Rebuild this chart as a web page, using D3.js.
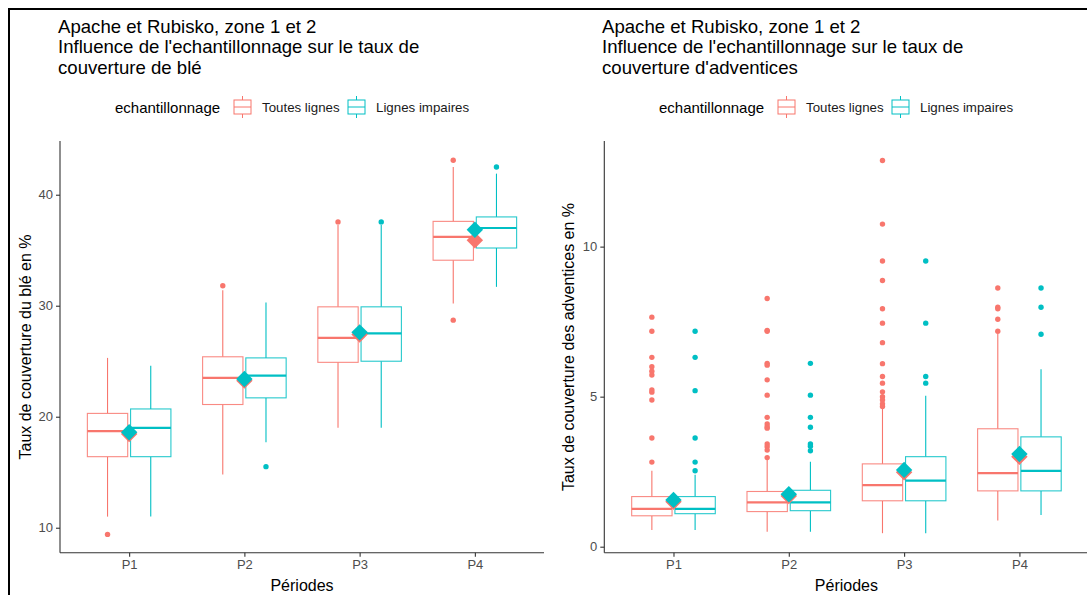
<!DOCTYPE html>
<html><head><meta charset="utf-8">
<script src="https://cdn.jsdelivr.net/npm/d3@7"></script>
<style>body{margin:0;background:#fff;}svg{display:block;font-family:"Liberation Sans",Arial,sans-serif;}</style>
</head><body>
<svg id="chart" width="1087" height="595"></svg>
<script>
// ---------- data ----------
const periods = ["P1", "P2", "P3", "P4"];
const groups = ["Toutes lignes", "Lignes impaires"];
const colors = ["#F8766D", "#00BFC4"];

// boxplot stats: [lower whisker, Q1, median, Q3, upper whisker]
const bleToutes = [[11.0, 16.4, 18.7, 20.3, 25.3], [14.8, 21.1, 23.5, 25.4, 31.4], [19.0, 24.9, 27.1, 29.9, 37.3], [30.2, 34.1, 36.2, 37.6, 42.5]];
const bleImpaires = [[11.0, 16.4, 19.0, 20.7, 24.6], [17.7, 21.7, 23.7, 25.3, 30.3], [19.0, 25.0, 27.5, 29.9, 37.3], [31.7, 35.2, 37.0, 38.0, 41.9]];
const bleToutesMean = [18.45, 23.25, 27.4, 35.9];
const bleImpairesMean = [18.6, 23.4, 27.6, 36.85];
const bleToutesOut = [[9.4], [31.8], [37.55], [43.1, 28.7]];
const bleImpairesOut = [[], [15.5], [37.55], [42.5]];

const advToutes = [[0.56, 1.03, 1.26, 1.67, 2.53], [0.5, 1.17, 1.48, 1.84, 2.95], [0.45, 1.53, 2.05, 2.76, 4.6], [0.87, 1.86, 2.45, 3.93, 7.1]];
const advImpaires = [[0.56, 1.1, 1.26, 1.67, 2.4], [0.5, 1.2, 1.48, 1.88, 2.83], [0.45, 1.53, 2.2, 3.0, 5.03], [1.06, 1.86, 2.53, 3.66, 5.91]];
const advToutesMean = [1.5, 1.69, 2.48, 3.0];
const advImpairesMean = [1.56, 1.75, 2.56, 3.09];
const advToutesOut = [
  [7.65, 7.18, 6.31, 6.0, 5.85, 5.72, 5.22, 5.15, 4.89, 3.62, 2.82],
  [8.27, 7.21, 7.18, 6.11, 6.05, 5.56, 5.05, 4.31, 4.09, 4.0, 3.95, 3.42, 3.33, 3.22, 2.97],
  [12.87, 10.75, 9.52, 8.87, 7.93, 7.45, 6.8, 6.1, 5.67, 5.45, 5.16, 5.0, 4.89, 4.76, 4.67],
  [8.62, 7.98, 7.93, 7.58, 7.18]
];
const advImpairesOut = [
  [7.18, 6.31, 5.2, 3.62, 2.82, 2.53],
  [6.11, 5.05, 4.31, 3.98, 3.42, 3.35, 3.2],
  [9.52, 7.45, 5.67, 5.45],
  [8.62, 7.98, 7.08]
];

const bleTicks = [10, 20, 30, 40];
const advTicks = [0, 5, 10];

const titleLines1 = ["Apache et Rubisko, zone 1 et 2", "Influence de l'echantillonnage sur le taux de", "couverture de blé"];
const titleLines2 = ["Apache et Rubisko, zone 1 et 2", "Influence de l'echantillonnage sur le taux de", "couverture d'adventices"];

// ---------- drawing ----------
const svg = d3.select("#chart");

function panel(opt) {
  const g = svg.append("g");
  const x = d3.scalePoint().domain(periods).range([opt.x0, opt.x1]).padding(0.6);
  const y = d3.scaleLinear().domain(opt.ydom).range([552.7, 141]);
  const step = x.step();
  const bw = 0.35 * step, off = 0.1875 * step;

  // title
  const t = g.append("text").attr("fill", "#000").style("font-size", "18.6px");
  opt.title.forEach((l, i) => t.append("tspan").attr("x", opt.tx).attr("y", 32.5 + i * 20.8).text(l));

  // legend
  const ly = 107;
  g.append("text").attr("x", opt.lx).attr("y", ly + 5.5).style("font-size", "15px").attr("fill", "#000").text("echantillonnage");
  const kx = [opt.lx + 118, opt.lx + 232];
  groups.forEach((gr, i) => {
    const k = g.append("g").attr("fill", "none").attr("stroke", colors[i]).attr("stroke-width", 1);
    k.append("rect").attr("x", kx[i] + 1).attr("y", ly - 7).attr("width", 17).attr("height", 14);
    k.append("line").attr("x1", kx[i] + 1).attr("x2", kx[i] + 18).attr("y1", ly).attr("y2", ly);
    k.append("line").attr("x1", kx[i] + 9.5).attr("x2", kx[i] + 9.5).attr("y1", ly - 11).attr("y2", ly - 7);
    k.append("line").attr("x1", kx[i] + 9.5).attr("x2", kx[i] + 9.5).attr("y1", ly + 7).attr("y2", ly + 11);
    g.append("text").attr("x", kx[i] + 29).attr("y", ly + 4.8).style("font-size", "13.3px").attr("fill", "#1a1a1a").text(gr);
  });

  // axes
  const ya = g.append("g").attr("transform", `translate(${opt.x0},0)`)
    .call(d3.axisLeft(y).tickValues(opt.ticks).tickSizeOuter(0).tickSize(4).tickPadding(3));
  const xa = g.append("g").attr("transform", `translate(0,552.7)`)
    .call(d3.axisBottom(x).tickSizeOuter(0).tickSize(4).tickPadding(3));
  [ya, xa].forEach(a => {
    a.select(".domain").attr("stroke", "#333").attr("stroke-width", 1.1);
    a.selectAll(".tick line").attr("stroke", "#333").attr("stroke-width", 1.1);
    a.selectAll(".tick text").attr("fill", "#4D4D4D").style("font-size", "13px").attr("font-family", "Liberation Sans, Arial, sans-serif");
  });
  ya.select(".domain").attr("d", `M0,552.7V141`);
  xa.select(".domain").attr("d", `M${opt.x0},0H${opt.x1}`);

  g.append("text").attr("x", (opt.x0 + opt.x1) / 2).attr("y", 591).attr("text-anchor", "middle")
    .style("font-size", "16px").attr("fill", "#000").text("Périodes");
  g.append("text").attr("transform", `translate(${opt.yx},347) rotate(-90)`).attr("text-anchor", "middle")
    .style("font-size", "16px").attr("fill", "#000").text(opt.ylab);

  // boxes
  const series = [opt.s0, opt.s1];
  series.forEach((s, i) => {
    const col = colors[i];
    const bg = g.append("g");
    periods.forEach((p, j) => {
      const cx = x(p) + (i === 0 ? -off : off);
      const [lo, q1, md, q3, hi] = s.stats[j];
      bg.append("line").attr("x1", cx).attr("x2", cx).attr("y1", y(q3)).attr("y2", y(hi)).attr("stroke", col).attr("stroke-width", 1.1);
      bg.append("line").attr("x1", cx).attr("x2", cx).attr("y1", y(q1)).attr("y2", y(lo)).attr("stroke", col).attr("stroke-width", 1.1);
      bg.append("rect").attr("x", cx - bw / 2).attr("y", y(q3)).attr("width", bw).attr("height", y(q1) - y(q3))
        .attr("fill", "#fff").attr("stroke", col).attr("stroke-opacity", 0.85).attr("stroke-width", 1.1);
      bg.append("line").attr("x1", cx - bw / 2).attr("x2", cx + bw / 2).attr("y1", y(md)).attr("y2", y(md)).attr("stroke", col).attr("stroke-width", 2.2);
      s.out[j].forEach(v => bg.append("circle").attr("cx", cx).attr("cy", y(v)).attr("r", 2.7).attr("fill", col));
    });
  });
  series.forEach((s, i) => {
    periods.forEach((p, j) => {
      g.append("path").attr("d", d3.symbol(d3.symbolSquare, 135)())
        .attr("transform", `translate(${x(p)},${y(s.mean[j])}) rotate(45)`).attr("fill", colors[i]);
    });
  });
}

panel({x0: 60, x1: 544, ydom: [7.75, 44.84], ticks: bleTicks, title: titleLines1, tx: 58, lx: 115, yx: 31,
  ylab: "Taux de couverture du blé en %",
  s0: {stats: bleToutes, mean: bleToutesMean, out: bleToutesOut},
  s1: {stats: bleImpaires, mean: bleImpairesMean, out: bleImpairesOut}});
panel({x0: 604.3, x1: 1088.6, ydom: [-0.2, 13.52], ticks: advTicks, title: titleLines2, tx: 602, lx: 659, yx: 574,
  ylab: "Taux de couverture des adventices en %",
  s0: {stats: advToutes, mean: advToutesMean, out: advToutesOut},
  s1: {stats: advImpaires, mean: advImpairesMean, out: advImpairesOut}});

// outer frame
svg.append("path").attr("d", "M9,595V9H1087").attr("fill", "none").attr("stroke", "#000").attr("stroke-width", 2);
</script>
</body></html>
